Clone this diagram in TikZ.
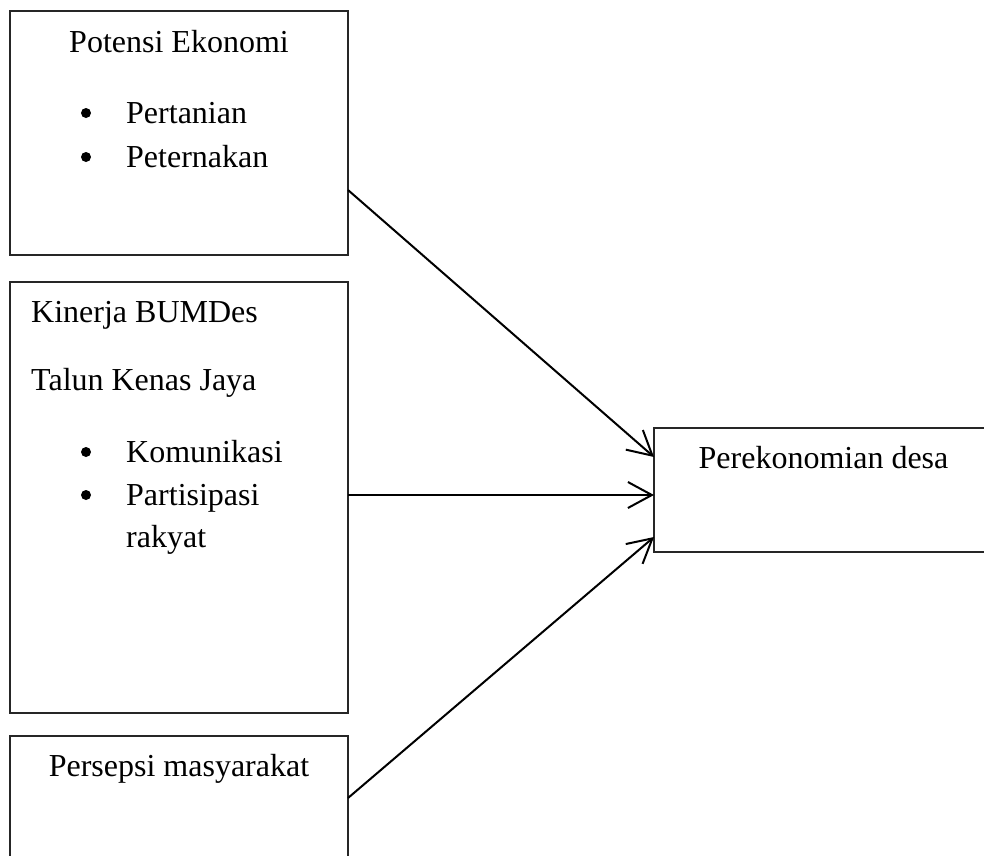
\documentclass[tikz,border=0pt]{standalone}
\usepackage{fontspec}
\setmainfont{Liberation Serif}
\usetikzlibrary{arrows.meta}
\begin{document}
\begin{tikzpicture}[x=1pt,y=-1pt,
  box/.style={draw=black!85, line width=1.3pt, minimum width=#1, inner sep=0pt, outer sep=0pt},
  txt/.style={anchor=base west, inner sep=0pt, font=\fontsize{32}{38}\selectfont},
  ctxt/.style={anchor=base, inner sep=0pt, font=\fontsize{32}{38}\selectfont},
  dot/.style={circle, fill=black, inner sep=0pt, minimum size=10pt},
  arr/.style={line width=2pt, -{Straight Barb[length=24pt,width=26pt,line width=2pt]}}
]
\useasboundingbox (0,0) rectangle (984,855);
\node[box=338pt, minimum height=244pt] (b1) at (179,133) {};
\node[box=338pt, minimum height=431pt] (b2) at (179,497.5) {};
\node[box=338pt, minimum height=160pt] (b3) at (179,816) {};
\node[box=346pt, minimum height=124pt] (b4) at (827,490) {};

\node[ctxt] (t1) at (179,52) {Potensi Ekonomi};
\node[dot] (u1) at (86,113) {};
\node[txt] (t2) at (126,123) {Pertanian};
\node[dot] (u2) at (86,157) {};
\node[txt] (t3) at (126,167) {Peternakan};

\node[txt] (t4) at (31,322) {Kinerja BUMDes};
\node[txt] (t5) at (31,390) {Talun Kenas Jaya};
\node[dot] (u3) at (86,452) {};
\node[txt] (t6) at (126,462) {Komunikasi};
\node[dot] (u4) at (86,495) {};
\node[txt] (t7) at (126,505) {Partisipasi};
\node[txt] (t8) at (126,547) {rakyat};

\node[ctxt] (t9) at (179,776) {Persepsi masyarakat};
\node[ctxt] (t10) at (823.5,468) {Perekonomian desa};

\draw[arr] ([yshift=65pt]b1.south east) -- ([yshift=95pt]b4.south west);
\draw[arr] ([yshift=218pt]b2.south east) -- ([yshift=57pt]b4.south west);
\draw[arr] ([yshift=-62pt]b3.north east) -- ([yshift=15pt]b4.south west);
\end{tikzpicture}
\end{document}
